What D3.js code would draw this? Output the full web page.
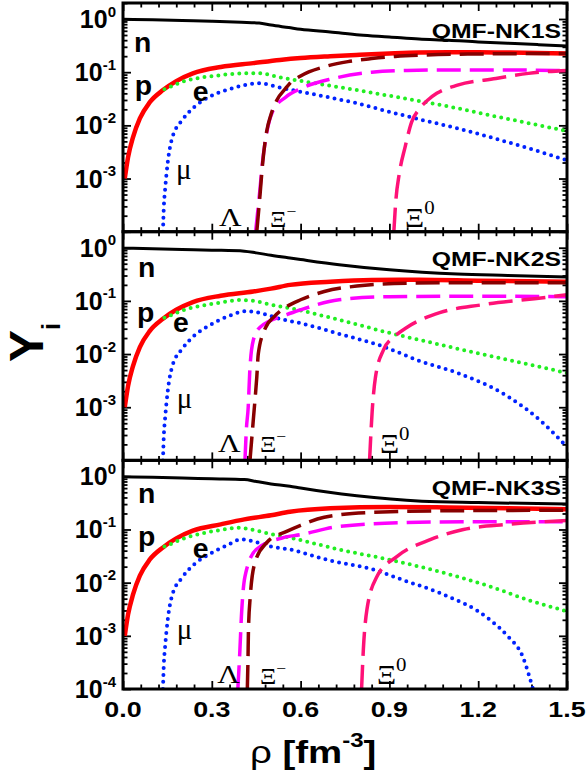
<!DOCTYPE html>
<html>
<head>
<meta charset="utf-8">
<script src="https://cdn.jsdelivr.net/npm/d3@7"></script>
<style>
  body { margin: 0; background: #fff; }
</style>
</head>
<body>
<svg id="chart" width="587" height="778" font-family="'Liberation Sans', Arial, sans-serif"></svg>
<script>
// ---- data: [rho (fm^-3), Y_i] ----
const panelNames = ['QMF-NK1S', 'QMF-NK2S', 'QMF-NK3S'];

// QMF-NK1S
const n1 = [[0,0.99],[0.1,0.97],[0.2,0.94],[0.3,0.91],[0.4,0.87],[0.46,0.84],[0.5,0.77],[0.56,0.69],[0.6,0.64],[0.7,0.57],[0.8,0.5],[0.9,0.46],[1.0,0.42],[1.1,0.4],[1.2,0.37],[1.3,0.35],[1.4,0.33],[1.5,0.31]];
const p1 = [[0.006,0.001],[0.017,0.0025],[0.034,0.006],[0.057,0.0135],[0.09,0.027],[0.135,0.046],[0.18,0.068],[0.236,0.095],[0.33,0.125],[0.44,0.148],[0.53,0.17],[0.6,0.185],[0.7,0.2],[0.8,0.213],[0.9,0.225],[1.0,0.235],[1.1,0.238],[1.2,0.238],[1.3,0.235],[1.4,0.23],[1.5,0.225]];
const e1 = [[0.14,0.048],[0.16,0.053],[0.2,0.066],[0.27,0.08],[0.33,0.088],[0.385,0.094],[0.46,0.096],[0.52,0.082],[0.564,0.074],[0.68,0.058],[0.79,0.046],[0.9,0.036],[1.016,0.0275],[1.13,0.021],[1.24,0.0155],[1.37,0.011],[1.5,0.0078]];
const mu1 = [[0.135,0.0001],[0.138,0.0003],[0.142,0.0006],[0.152,0.0022],[0.167,0.006],[0.2,0.0125],[0.24,0.022],[0.29,0.034],[0.37,0.05],[0.46,0.062],[0.52,0.053],[0.564,0.047],[0.68,0.035],[0.79,0.026],[0.9,0.018],[1.016,0.0124],[1.13,0.0088],[1.24,0.006],[1.37,0.0037],[1.5,0.0022]];
const lam1 = [[0.448,0.0001],[0.461,0.0005],[0.472,0.0022],[0.485,0.007],[0.507,0.019],[0.55,0.034],[0.6,0.049],[0.71,0.076],[0.84,0.1],[0.96,0.108],[1.1,0.11],[1.3,0.11],[1.5,0.107]];
const xim1 = [[0.452,0.0001],[0.463,0.0005],[0.472,0.002],[0.485,0.0075],[0.5,0.016],[0.52,0.03],[0.55,0.05],[0.564,0.062],[0.6,0.085],[0.68,0.126],[0.76,0.158],[0.84,0.18],[0.92,0.198],[1.01,0.21],[1.2,0.22],[1.5,0.225]];
const xi01 = [[0.915,0.0001],[0.922,0.0004],[0.933,0.0012],[0.953,0.0039],[0.975,0.0115],[1.0,0.02],[1.03,0.03],[1.06,0.04],[1.13,0.057],[1.26,0.076],[1.37,0.095],[1.5,0.108]];

// QMF-NK2S
const n2 = [[0,0.98],[0.1,0.96],[0.2,0.93],[0.3,0.9],[0.41,0.86],[0.45,0.8],[0.5,0.72],[0.564,0.64],[0.6,0.6],[0.73,0.48],[0.9,0.385],[1.13,0.32],[1.3,0.3],[1.5,0.28]];
const p2 = [[0.006,0.001],[0.017,0.0025],[0.034,0.006],[0.057,0.0135],[0.09,0.027],[0.135,0.046],[0.18,0.068],[0.236,0.095],[0.33,0.125],[0.44,0.15],[0.5,0.17],[0.564,0.2],[0.7,0.23],[0.84,0.248],[1.0,0.25],[1.2,0.24],[1.5,0.228]];
const e2 = [[0.14,0.048],[0.16,0.053],[0.2,0.066],[0.27,0.082],[0.33,0.093],[0.4,0.104],[0.45,0.098],[0.5,0.085],[0.564,0.073],[0.73,0.044],[0.9,0.025],[1.05,0.016],[1.2,0.0103],[1.35,0.0068],[1.5,0.0044]];
const mu2 = [[0.135,0.0001],[0.138,0.0003],[0.142,0.0006],[0.152,0.0022],[0.167,0.006],[0.2,0.0125],[0.24,0.022],[0.29,0.034],[0.35,0.05],[0.42,0.064],[0.47,0.058],[0.53,0.046],[0.6,0.038],[0.73,0.024],[0.88,0.0138],[1.0,0.0075],[1.13,0.0044],[1.3,0.0016],[1.41,0.00056],[1.5,0.00018]];
const lam2 = [[0.412,0.0001],[0.417,0.0004],[0.423,0.001],[0.428,0.0044],[0.44,0.018],[0.463,0.032],[0.553,0.055],[0.6,0.068],[0.73,0.105],[0.9,0.12],[1.2,0.122],[1.5,0.12]];
const xim2 = [[0.429,0.0001],[0.44,0.00056],[0.452,0.0037],[0.457,0.01],[0.48,0.03],[0.51,0.05],[0.553,0.078],[0.6,0.105],[0.68,0.15],[0.79,0.19],[0.96,0.215],[1.2,0.22],[1.5,0.22]];
const xi02 = [[0.833,0.0001],[0.842,0.00087],[0.853,0.0037],[0.88,0.012],[0.92,0.022],[0.96,0.032],[1.07,0.06],[1.21,0.084],[1.39,0.11],[1.5,0.13]];

// QMF-NK3S
const n3 = [[0,0.98],[0.1,0.96],[0.2,0.93],[0.3,0.9],[0.41,0.87],[0.45,0.8],[0.5,0.72],[0.564,0.65],[0.6,0.6],[0.79,0.43],[1.01,0.34],[1.2,0.32],[1.5,0.3]];
const p3 = [[0.006,0.001],[0.017,0.0025],[0.034,0.006],[0.057,0.0135],[0.09,0.027],[0.135,0.046],[0.18,0.068],[0.236,0.095],[0.33,0.125],[0.41,0.155],[0.5,0.185],[0.564,0.215],[0.7,0.25],[0.9,0.265],[1.1,0.26],[1.3,0.25],[1.5,0.24]];
const e3 = [[0.14,0.048],[0.16,0.053],[0.2,0.066],[0.27,0.085],[0.33,0.098],[0.39,0.108],[0.45,0.095],[0.5,0.082],[0.564,0.07],[0.73,0.042],[0.9,0.027],[1.07,0.016],[1.24,0.0085],[1.38,0.0045],[1.5,0.0029]];
const mu3 = [[0.135,0.0001],[0.138,0.0003],[0.142,0.0006],[0.152,0.0022],[0.167,0.006],[0.2,0.0125],[0.24,0.022],[0.29,0.034],[0.35,0.05],[0.4,0.065],[0.45,0.058],[0.5,0.048],[0.564,0.042],[0.7,0.026],[0.84,0.018],[0.95,0.011],[1.07,0.0064],[1.24,0.002],[1.3,0.00098],[1.35,0.00041],[1.385,0.0001]];
const lam3 = [[0.388,0.0001],[0.395,0.00055],[0.4,0.0023],[0.412,0.013],[0.45,0.042],[0.54,0.07],[0.6,0.08],[0.73,0.114],[0.96,0.135],[1.2,0.14],[1.5,0.14]];
const xim3 = [[0.42,0.0001],[0.422,0.0003],[0.424,0.0014],[0.43,0.0055],[0.446,0.024],[0.486,0.057],[0.553,0.092],[0.6,0.12],[0.68,0.17],[0.84,0.21],[1.1,0.225],[1.5,0.23]];
const xi03 = [[0.806,0.0001],[0.812,0.00055],[0.824,0.0031],[0.858,0.013],[0.925,0.031],[1.04,0.065],[1.15,0.1],[1.3,0.125],[1.5,0.148]];

// particle labels, anchored at [rho, Y] (text start / baseline)
const labels1 = [['n',0.037,0.24],['p',0.04,0.037],['e',0.236,0.0287],['μ',0.179,0.00098],['Λ',0.324,0.000128],['Ξ−',0.497,0.000122],['Ξ0',0.953,0.000122]];
const labels2 = [['n',0.051,0.28],['p',0.047,0.04],['e',0.169,0.026],['μ',0.182,0.00097],['Λ',0.321,0.000144],['Ξ−',0.463,0.000144],['Ξ0',0.868,0.000138]];
const labels3 = [['n',0.051,0.315],['p',0.051,0.049],['e',0.236,0.029],['μ',0.182,0.00087],['Λ',0.318,0.00013],['Ξ−',0.463,0.000126],['Ξ0',0.858,0.000126]];

const xMajor = [0, 0.3, 0.6, 0.9, 1.2, 1.5];
const yMajor = [1, 0.1, 0.01, 0.001, 0.0001];
const yExp = ['0', '-1', '-2', '-3', '-4'];

const panels = [
    {name: panelNames[0], curves: [n1, p1, e1, mu1, lam1, xim1, xi01], labels: labels1},
    {name: panelNames[1], curves: [n2, p2, e2, mu2, lam2, xim2, xi02], labels: labels2},
    {name: panelNames[2], curves: [n3, p3, e3, mu3, lam3, xim3, xi03], labels: labels3},
];

// styles in the order n, p, e, mu, Lambda, Xi-, Xi0
const styles = [
    {color: '#000000', width: 3},
    {color: '#ff0000', width: 4.5},
    {color: '#22ee22', width: 4, dash: '0,7'},
    {color: '#0022ff', width: 4, dash: '0,7'},
    {color: '#ff00ff', width: 3.5, dash: '24,9'},
    {color: '#880000', width: 3.5, dash: '24,9'},
    {color: '#ff1177', width: 3.5, dash: '24,9'},
];

const serif = "'Liberation Serif', 'Times New Roman', serif";

// ---- layout ----
const svg = d3.select('#chart');
const left = 123, right = 567;
const panelTop = [3, 231.7, 460.3];
const panelH = 228.7;

const x = d3.scaleLinear().domain([0, 1.5]).range([left, right]);

let xMinor = d3.range(0, 1.51, 0.06).filter(v => xMajor.every(m => Math.abs(m - v) > 1e-6));
let yMinor = [];
[-4, -3, -2, -1, 0].forEach(d => {
    for (let k = 2; k <= 9; k++) {
        let v = k * Math.pow(10, d);
        if (v <= 2) yMinor.push(v);
    }
});

function sansText(g, str, tx, ty, size, sx, anchor) {
    return g.append('text')
        .attr('transform', `translate(${tx},${ty}) scale(${sx},1)`)
        .attr('text-anchor', anchor)
        .attr('font-size', size)
        .attr('font-weight', 'bold')
        .text(str);
}

panels.forEach((panel, i) => {
    let top = panelTop[i];
    let bottom = top + panelH;
    let y = d3.scaleLog().domain([1e-4, 2]).range([bottom, top]);
    let g = svg.append('g');

    g.append('clipPath').attr('id', 'clip' + i)
        .append('rect')
        .attr('x', left).attr('y', top)
        .attr('width', right - left).attr('height', panelH);

    // ticks on all four sides, pointing inward
    let axes = [
        [d3.axisLeft(y).tickValues(yMajor).tickSize(-8), left, 0],
        [d3.axisLeft(y).tickValues(yMinor).tickSize(-4.5), left, 0],
        [d3.axisRight(y).tickValues(yMajor).tickSize(-8), right, 0],
        [d3.axisRight(y).tickValues(yMinor).tickSize(-4.5), right, 0],
        [d3.axisBottom(x).tickValues(xMajor).tickSize(-8), 0, bottom],
        [d3.axisBottom(x).tickValues(xMinor).tickSize(-4.5), 0, bottom],
        [d3.axisTop(x).tickValues(xMajor).tickSize(-8), 0, top],
        [d3.axisTop(x).tickValues(xMinor).tickSize(-4.5), 0, top],
    ];
    axes.forEach(([ax, tx, ty]) => {
        let a = g.append('g')
            .attr('transform', `translate(${tx},${ty})`)
            .call(ax.tickFormat(''));
        a.select('.domain').remove();
        a.selectAll('line').attr('stroke', '#000').attr('stroke-width', 1.8);
    });

    // curves
    let line = d3.line()
        .x(d => x(d[0]))
        .y(d => y(d[1]))
        .curve(d3.curveMonotoneX);

    let curveG = g.append('g').attr('clip-path', `url(#clip${i})`);
    panel.curves.forEach((data, k) => {
        let s = styles[k];
        curveG.append('path')
            .datum(data)
            .attr('d', line)
            .attr('fill', 'none')
            .attr('stroke', s.color)
            .attr('stroke-width', s.width)
            .attr('stroke-dasharray', s.dash || null)
            .attr('stroke-linecap', s.dash === '0,7' ? 'round' : 'butt')
            .attr('stroke-linejoin', 'round');
    });

    // frame
    g.append('rect')
        .attr('x', left).attr('y', top)
        .attr('width', right - left).attr('height', panelH)
        .attr('fill', 'none')
        .attr('stroke', '#000')
        .attr('stroke-width', 3);

    // y tick labels 10^k
    yMajor.forEach((v, k) => {
        if (v < 1e-3 && i < 2) return;
        let t = g.append('text')
            .attr('x', 116)
            .attr('y', y(v) + 9)
            .attr('text-anchor', 'end')
            .attr('font-size', 25)
            .attr('font-weight', 'bold')
            .text('10');
        t.append('tspan')
            .attr('dy', -11.5)
            .attr('font-size', 15)
            .text(yExp[k]);
    });

    // panel name
    sansText(g, panel.name, 561, top + 34.5, 21, 1.18, 'end');

    // particle labels
    panel.labels.forEach(([txt, rx, ry]) => {
        let px = x(rx), py = y(ry);
        if (txt === 'n' || txt === 'p' || txt === 'e') {
            sansText(g, txt, px, py, 27, 1.05, 'start');
        } else if (txt === 'μ') {
            g.append('text').attr('x', px).attr('y', py)
                .attr('font-family', serif)
                .attr('font-size', 29).text(txt);
        } else if (txt === 'Λ') {
            g.append('text').attr('transform', `translate(${px},${py}) scale(1.2,1)`)
                .attr('font-family', serif)
                .attr('font-size', 26).text(txt);
        } else {
            let big = txt[1] === '0';
            let t = g.append('text')
                .attr('transform', `translate(${px},${py}) scale(1.1,1)`)
                .attr('font-family', serif)
                .attr('font-size', big ? 27 : 23)
                .text('Ξ');
            t.append('tspan')
                .attr('dy', big ? -13 : -10)
                .attr('font-size', big ? 19 : 16)
                .text(txt[1]);
        }
    });
});

// x tick labels on the bottom panel
const xFmt = d3.format('.1f');
xMajor.forEach(v => {
    sansText(svg, xFmt(v), x(v), 716.5, 22, 1.22, 'middle');
});

// axis titles
let xt = svg.append('text')
    .attr('transform', 'translate(250,763) scale(1.2,1)')
    .attr('font-size', 32)
    .attr('font-weight', 'bold');
xt.append('tspan').attr('font-weight', 'normal').text('ρ');
xt.append('tspan').text(' [fm');
xt.append('tspan').attr('dy', -16).attr('font-size', 20).text('-3');
xt.append('tspan').attr('dy', 16).text(']');

let yt = svg.append('text')
    .attr('transform', 'translate(43,362) rotate(-90)')
    .attr('font-size', 48)
    .attr('font-weight', 'bold');
yt.append('tspan').text('Y');
yt.append('tspan').attr('dy', 17).attr('font-size', 25).text('i');
</script>
</body>
</html>
